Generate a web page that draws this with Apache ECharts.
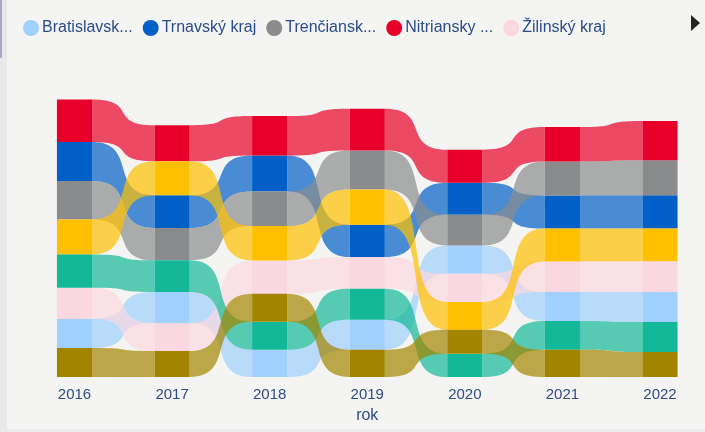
<!DOCTYPE html>
<html>
<head>
<meta charset="utf-8">
<script src="https://cdn.jsdelivr.net/npm/echarts@6/dist/echarts.min.js"></script>
<style>
  html, body { margin: 0; padding: 0; background: #F4F4F2; }
  #chart { width: 705px; height: 432px; }
</style>
</head>
<body>
<div id="chart"></div>
<script>
// roky na osi x
const years = ['2016', '2017', '2018', '2019', '2020', '2021', '2022']

// hodnoty krajov (odčítané z obrázka)
const bratislavsky = [29.3, 31, 27.3, 30, 28.4, 28.9, 30.1]
const trnavsky = [39, 32.6, 36, 32.3, 32, 33.1, 33.1]
const trenciansky = [38.3, 32.4, 34.7, 39, 30.7, 34, 35]
const nitriansky = [42.7, 36, 39.3, 41.7, 33, 34.3, 39.3]
const zilinsky = [31, 28, 33.3, 31.7, 28.2, 30.7, 30.7]
const banskobystricky = [35, 34, 34.3, 35.3, 27.7, 32.9, 32.9]
const presovsky = [33.3, 31.7, 27.9, 31, 23.3, 28.7, 29.9]
const kosicky = [29, 26, 28.1, 27.3, 24, 27.3, 25]

const names = ['Bratislavský kraj', 'Trnavský kraj', 'Trenčiansky kraj', 'Nitriansky kraj',
  'Žilinský kraj', 'Banskobystrický kraj', 'Prešovský kraj', 'Košický kraj']
const values = [bratislavsky, trnavsky, trenciansky, nitriansky, zilinsky, banskobystricky, presovsky, kosicky]
const colors = ['#9FD0FE', '#0060C8', '#8A8B8D', '#E8002A', '#FBD8DF', '#FEC000', '#12B897', '#A38400']

// skrátené názvy v legende
const legendText = {
  'Bratislavský kraj': 'Bratislavsk...',
  'Trnavský kraj': 'Trnavský kraj',
  'Trenčiansky kraj': 'Trenčiansk...',
  'Nitriansky kraj': 'Nitriansky ...',
  'Žilinský kraj': 'Žilinský kraj'
}

// poradie: najväčší hore
const bottoms = values.map(() => [])
const tops = values.map(() => [])
years.forEach((y, j) => {
  const order = values.map((v, s) => s).sort((a, b) => values[a][j] - values[b][j])
  let acc = 0
  order.forEach((s) => {
    bottoms[s][j] = acc
    acc += values[s][j]
    tops[s][j] = acc
  })
})

const last = years.length - 1

const renderItem = (params, api) => {
  const i = api.value(0)
  const pBot = api.coord([i, api.value(1)])
  const pTop = api.coord([i, api.value(2)])
  const half = api.size([1, 0])[0] * 0.18
  const color = api.visual('color')
  const children = [{
    type: 'rect',
    z2: 10,
    shape: { x: pBot[0] - half, y: pTop[1], width: half * 2, height: pBot[1] - pTop[1] },
    style: { fill: color }
  }]
  if (i < last) {
    const qBot = api.coord([i + 1, api.value(3)])
    const qTop = api.coord([i + 1, api.value(4)])
    const xa = pBot[0] + half
    const xb = qBot[0] - half
    // kontrolné body ďalej od okrajov -> strmší prechod v strede
    const c1 = xa + (xb - xa) * 0.75
    const c2 = xb - (xb - xa) * 0.75
    const d = 'M' + xa + ' ' + pTop[1] +
      ' C' + c1 + ' ' + pTop[1] + ' ' + c2 + ' ' + qTop[1] + ' ' + xb + ' ' + qTop[1] +
      ' L' + xb + ' ' + qBot[1] +
      ' C' + c2 + ' ' + qBot[1] + ' ' + c1 + ' ' + pBot[1] + ' ' + xa + ' ' + pBot[1] + ' Z'
    children.push({
      type: 'path',
      z2: 1,
      shape: { pathData: d },
      style: { fill: color, opacity: 0.7 }
    })
  }
  return { type: 'group', children: children }
}

const series = names.map((name, s) => ({
  name: name,
  type: 'custom',
  clip: false,
  renderItem: renderItem,
  itemStyle: { color: colors[s] },
  encode: { x: 0, y: [1, 2] },
  data: years.map((y, j) => [j, bottoms[s][j], tops[s][j],
    j < last ? bottoms[s][j + 1] : bottoms[s][j],
    j < last ? tops[s][j + 1] : tops[s][j]])
}))

const myChart = echarts.init(document.getElementById('chart'))
const option = {
  backgroundColor: '#F4F4F2',
  animation: false,
  textStyle: { fontFamily: 'Liberation Sans' },
  legend: {
    data: names.slice(0, 5),
    left: 18,
    top: 15,
    icon: 'circle',
    itemWidth: 16,
    itemHeight: 16,
    itemGap: 10,
    formatter: (n) => legendText[n] || n,
    textStyle: { color: '#2B4C8C', fontSize: 16, padding: [0, 0, 0, -2] }
  },
  grid: { left: 74.5, right: 45, top: 77, bottom: 55 },
  xAxis: {
    type: 'category',
    data: years,
    boundaryGap: false,
    axisLine: { show: false },
    axisTick: { show: false },
    axisLabel: { color: '#2E4C86', fontSize: 15, margin: 10 },
    name: 'rok',
    nameLocation: 'middle',
    nameGap: 31,
    nameTextStyle: { color: '#2E4C86', fontSize: 16 }
  },
  yAxis: { type: 'value', min: 0, max: 300, show: false },
  graphic: [
    { type: 'rect', shape: { x: 0, y: 0, width: 7, height: 432 }, style: { fill: '#E8E8E8' }, silent: true },
    { type: 'rect', shape: { x: 0, y: 0, width: 2, height: 58 }, style: { fill: '#A8A8CC' }, silent: true },
    { type: 'rect', shape: { x: 7, y: 429, width: 698, height: 3 }, style: { fill: '#EAEAEA' }, silent: true },
    { type: 'polygon', shape: { points: [[691, 15], [700, 23], [691, 31]] }, style: { fill: '#252423' }, silent: true }
  ],
  series: series
}
option && myChart.setOption(option)
</script>
</body>
</html>
